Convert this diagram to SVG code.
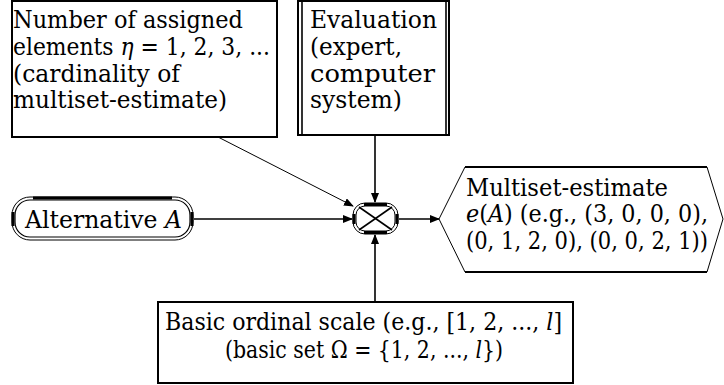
<svg xmlns="http://www.w3.org/2000/svg" width="724" height="385" viewBox="0 0 724 385">
<style>
text{font-family:"DejaVu Serif","Liberation Serif","Times New Roman",serif;font-size:24px;fill:#000}
.i{font-style:italic}
.b{fill:#fff;stroke:#000;stroke-width:2}
.t{fill:none;stroke:#000;stroke-width:1}
.k{fill:none;stroke:#000;stroke-width:3}
.c{fill:none;stroke:#000;stroke-width:1.6}
</style>
<defs>
<marker id="ah" markerWidth="10" markerHeight="8" refX="9" refY="4" orient="auto" markerUnits="userSpaceOnUse">
<path d="M0,0 L10,4 L0,8 Z" fill="#000"/>
</marker>
</defs>
<rect width="724" height="385" fill="#fff"/>
<g id="connectors">
<line class="t" x1="218" y1="137" x2="353" y2="206" marker-end="url(#ah)"/>
<line class="c" x1="375" y1="135" x2="375" y2="202" marker-end="url(#ah)"/>
<line class="c" x1="194" y1="219" x2="352" y2="219" marker-end="url(#ah)"/>
<line class="c" x1="399" y1="219" x2="439" y2="219" marker-end="url(#ah)"/>
<line class="c" x1="375" y1="302" x2="375" y2="235" marker-end="url(#ah)"/>
</g>
<g id="n-number">
<rect class="b" x="12" y="1" width="265" height="136"/>
<text x="13" y="28" textLength="230" lengthAdjust="spacingAndGlyphs">Number of assigned</text>
<text x="13" y="55" textLength="257" lengthAdjust="spacingAndGlyphs">elements <tspan class="i">η</tspan> = 1, 2, 3, ...</text>
<text x="13" y="82" textLength="167" lengthAdjust="spacingAndGlyphs">(cardinality of</text>
<text x="13" y="108" textLength="214" lengthAdjust="spacingAndGlyphs">multiset-estimate)</text>
</g>
<g id="n-evaluation">
<rect x="298" y="1" width="151" height="134" fill="#fff" stroke="none"/>
<line class="b" x1="297" y1="1" x2="450" y2="1"/>
<line class="b" x1="297" y1="135" x2="450" y2="135"/>
<line class="b" x1="298" y1="0" x2="298" y2="136"/>
<line class="c" x1="302" y1="1" x2="302" y2="135"/>
<line class="c" x1="446" y1="1" x2="446" y2="135"/>
<line class="b" x1="449" y1="0" x2="449" y2="136"/>
<text x="310" y="28" textLength="127" lengthAdjust="spacingAndGlyphs">Evaluation</text>
<text x="310" y="55" textLength="92" lengthAdjust="spacingAndGlyphs">(expert,</text>
<text x="310" y="82" textLength="125" lengthAdjust="spacingAndGlyphs">computer</text>
<text x="310" y="108" textLength="92" lengthAdjust="spacingAndGlyphs">system)</text>
</g>
<g id="n-alternative">
<rect x="12" y="197" width="181" height="43" rx="18" fill="#fff" stroke="#000" stroke-width="1"/>
<rect x="15" y="200" width="175" height="37" rx="15" fill="none" stroke="#000" stroke-width="1.2"/>
<line class="k" x1="33" y1="198" x2="172" y2="198"/>
<line class="k" x1="13" y1="212" x2="13" y2="226"/>
<line class="k" x1="192" y1="212" x2="192" y2="226"/>
<text x="25" y="228" textLength="157" lengthAdjust="spacingAndGlyphs">Alternative <tspan class="i">A</tspan></text>
</g>
<g id="n-combine">
<rect x="353" y="203" width="45" height="31" rx="12" fill="#fff" stroke="#000" stroke-width="1"/>
<rect x="356" y="206" width="39" height="25" rx="9" fill="none" stroke="#000" stroke-width="1"/>
<line class="k" x1="364" y1="204.5" x2="387" y2="204.5"/>
<line class="k" x1="364" y1="232.5" x2="387" y2="232.5"/>
<line class="k" x1="354" y1="214" x2="354" y2="224"/>
<line class="k" x1="397" y1="214" x2="397" y2="224"/>
<line class="c" x1="359" y1="207" x2="392" y2="230"/>
<line class="c" x1="392" y1="207" x2="359" y2="230"/>
</g>
<g id="n-multiset">
<polygon points="439,219 465,167 707,167 723,219 707,272 465,272" fill="#fff" stroke="#000" stroke-width="1"/>
<line class="b" x1="465" y1="167" x2="707" y2="167"/>
<line class="b" x1="465" y1="272" x2="707" y2="272"/>
<text x="466" y="196" textLength="202" lengthAdjust="spacingAndGlyphs">Multiset-estimate</text>
<text x="466" y="222" textLength="242" lengthAdjust="spacingAndGlyphs"><tspan class="i">e</tspan>(<tspan class="i">A</tspan>) (e.g., (3, 0, 0, 0),</text>
<text x="466" y="249" textLength="242" lengthAdjust="spacingAndGlyphs">(0, 1, 2, 0), (0, 0, 2, 1))</text>
</g>
<g id="n-scale">
<rect class="b" x="158" y="302" width="415" height="81"/>
<text x="165" y="330" textLength="397" lengthAdjust="spacingAndGlyphs">Basic ordinal scale (e.g., [1, 2, ..., <tspan class="i">l</tspan>]</text>
<text x="225" y="358" textLength="278" lengthAdjust="spacingAndGlyphs">(basic set Ω = {1, 2, ..., <tspan class="i">l</tspan>})</text>
</g>
</svg>
